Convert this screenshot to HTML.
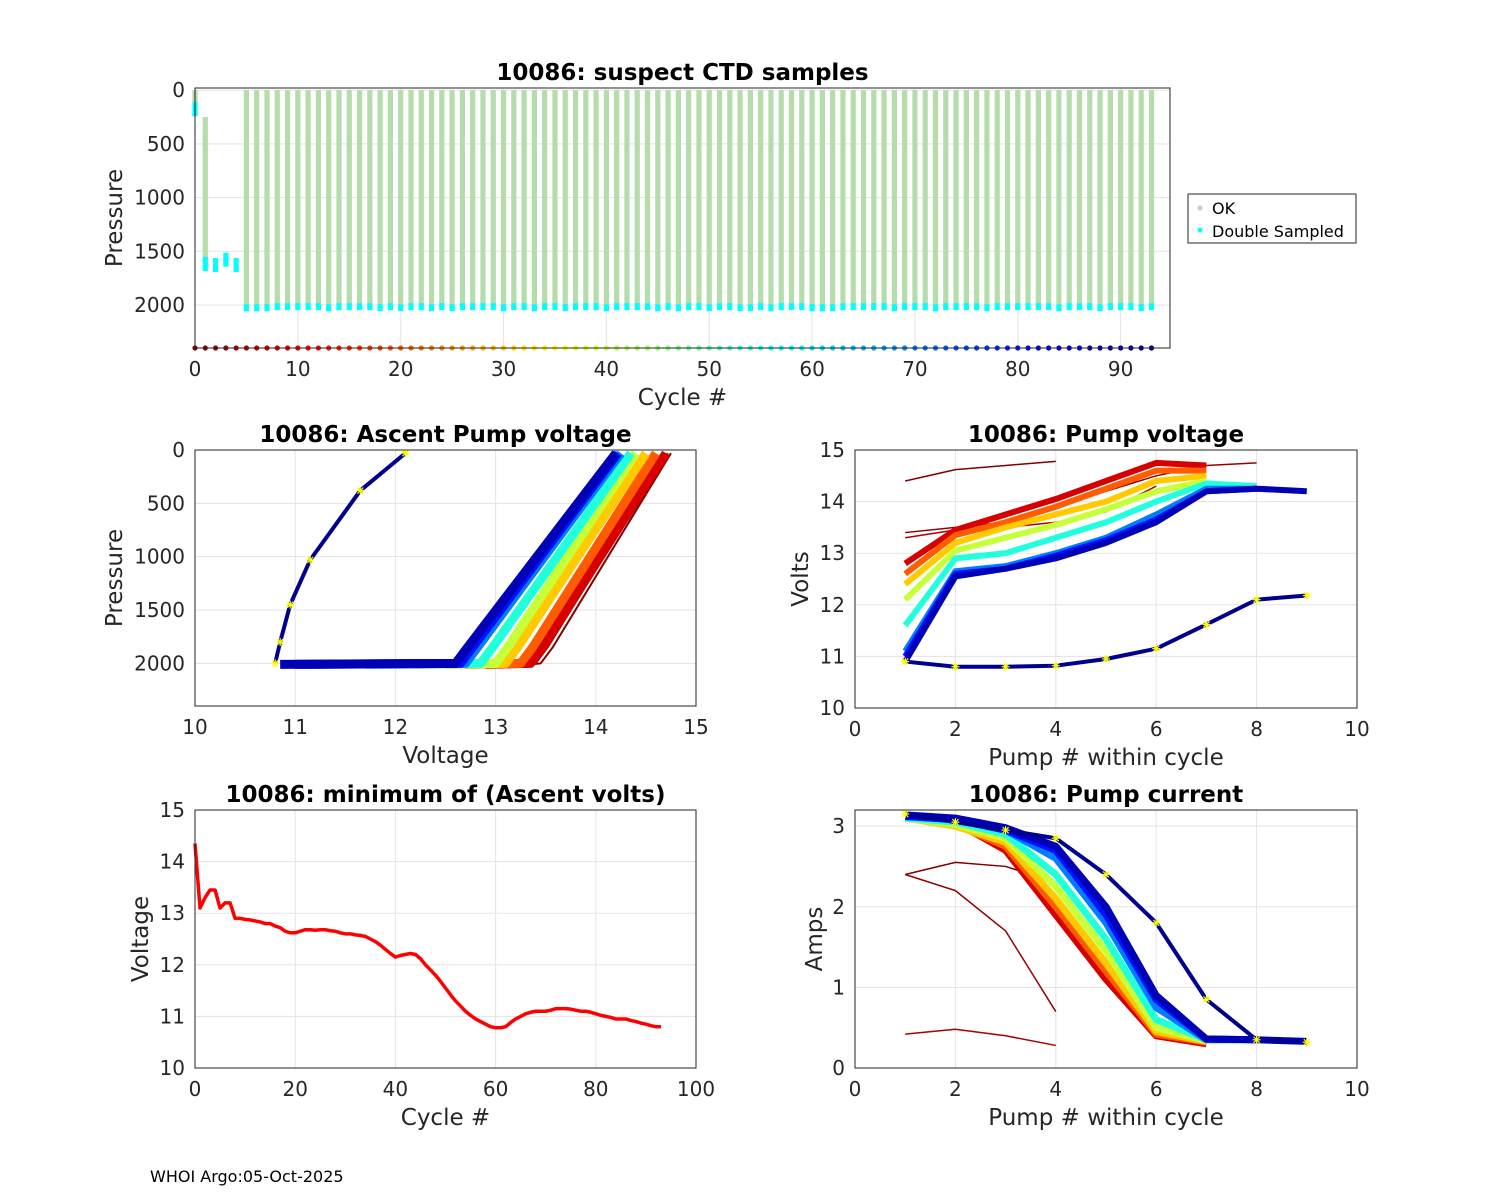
<!DOCTYPE html>
<html><head><meta charset="utf-8">
<style>
body{margin:0;background:#fff;}
svg{display:block;font-family:"DejaVu Sans","Liberation Sans",sans-serif;}
</style></head>
<body>
<svg id="fig" width="1500" height="1200" viewBox="0 0 1500 1200"></svg>
<script>
// ---------- DATA ----------
const cycles = Array.from({length:94},(_,i)=>i);
const minVolts = [14.35,13.1,13.3,13.45,13.45,13.1,13.2,13.2,12.9,12.9,12.88,12.87,12.85,12.83,12.8,12.8,12.75,12.72,12.65,12.62,12.62,12.65,12.68,12.68,12.67,12.68,12.68,12.66,12.65,12.62,12.6,12.6,12.58,12.57,12.55,12.5,12.45,12.38,12.3,12.22,12.15,12.18,12.2,12.22,12.2,12.12,12.0,11.9,11.8,11.68,11.55,11.42,11.3,11.2,11.1,11.02,10.95,10.9,10.85,10.8,10.78,10.78,10.8,10.88,10.95,11.0,11.05,11.08,11.1,11.1,11.1,11.12,11.15,11.15,11.15,11.14,11.12,11.1,11.1,11.08,11.05,11.02,11.0,10.98,10.95,10.95,10.95,10.92,10.9,10.87,10.85,10.82,10.8,10.8];
const okTop = [0,250,null,null,null].concat(Array(89).fill(0));
const okBot = [120,1570,null,null,null].concat(Array(89).fill(2000));
const dblP  = [150,1590,1600,1550,1600,2030,2030,2030,2020,2020,2020,2020,2020,2030,2020,2020,2020,2020,2030,2020,2030,2020,2020,2030,2020,2030,2020,2020,2020,2020,2030,2020,2020,2030,2020,2020,2030,2020,2020,2020,2030,2020,2020,2020,2020,2030,2020,2030,2020,2020,2030,2020,2020,2030,2030,2020,2030,2020,2020,2020,2030,2030,2030,2020,2020,2020,2020,2020,2030,2020,2020,2020,2030,2020,2020,2020,2020,2030,2020,2020,2020,2020,2020,2020,2030,2020,2020,2020,2030,2020,2020,2020,2030,2020];
const repCycles = [0,2,4,8,20,30,40,55,70,80,88,93];
const pumpVolts = [
 [14.4,14.62,14.7,14.78],
 [13.4,13.5,13.6,13.9,14.2,14.5,14.7,14.75],
 [13.3,13.45,13.5,13.6,13.8,14.3],
 [12.8,13.45,13.75,14.05,14.4,14.75,14.7],
 [12.6,13.35,13.6,13.9,14.25,14.6,14.6],
 [12.4,13.2,13.5,13.75,14.0,14.4,14.5],
 [12.1,13.05,13.3,13.55,13.85,14.2,14.4],
 [11.6,12.9,13.0,13.3,13.6,14.0,14.35,14.3],
 [11.1,12.65,12.75,13.0,13.3,13.75,14.25,14.25],
 [11.0,12.6,12.7,12.95,13.25,13.65,14.2,14.25],
 [10.9,12.55,12.7,12.9,13.2,13.6,14.2,14.25,14.2],
 [10.9,10.8,10.8,10.82,10.95,11.15,11.62,12.1,12.18]
];
const pumpAmps = [
 [2.4,2.55,2.5,2.3],
 [2.4,2.2,1.7,0.7],
 [0.42,0.48,0.4,0.28],
 [3.1,3.05,2.7,1.9,1.1,0.4,0.3],
 [3.1,3.02,2.75,2.0,1.2,0.42,0.32],
 [3.1,3.0,2.8,2.1,1.3,0.45,0.33],
 [3.1,3.02,2.85,2.25,1.45,0.5,0.34],
 [3.1,3.05,2.9,2.4,1.6,0.6,0.35],
 [3.12,3.08,2.95,2.6,1.8,0.75,0.35,0.35],
 [3.12,3.08,2.95,2.7,1.9,0.85,0.36,0.35],
 [3.14,3.1,2.98,2.75,2.0,0.9,0.36,0.35,0.33],
 [3.15,3.05,2.95,2.85,2.4,1.8,0.85,0.35,0.32]
];
// ascent profiles (for all rep cycles except last)
const startV = [13.35,13.3,13.3,12.9,12.7,12.5,12.2,11.7,11.1,11.0,10.85];
const kneeV  = [13.45,13.4,13.35,13.35,13.25,13.1,13.0,12.85,12.7,12.65,12.6];
const topV   = [14.75,14.72,14.7,14.7,14.6,14.5,14.4,14.35,14.25,14.22,14.2];
const lastProfV = [10.8,10.85,10.95,11.15,11.65,12.1];
const lastProfP = [2000,1800,1450,1030,380,30];

// ---------- HELPERS ----------
const NS="http://www.w3.org/2000/svg";
const svg=document.getElementById('fig');
function el(tag,attrs,parent){const e=document.createElementNS(NS,tag);for(const k in attrs)e.setAttribute(k,attrs[k]);(parent||svg).appendChild(e);return e;}
function txt(s,attrs,parent){const e=el('text',attrs,parent);e.textContent=s;return e;}
function jet(t){t=Math.max(0,Math.min(1,t));const r=Math.min(1,Math.max(0,1.5-Math.abs(4*t-3))),g=Math.min(1,Math.max(0,1.5-Math.abs(4*t-2))),b=Math.min(1,Math.max(0,1.5-Math.abs(4*t-1)));return `rgb(${Math.round(r*255)},${Math.round(g*255)},${Math.round(b*255)})`;}
function cyc(c){return jet(1-c/93);}
function axes(o){
  const g=el('g',{});
  
  
  const sx=v=>o.x0+(v-o.xmin)/(o.xmax-o.xmin)*(o.x1-o.x0);
  const sy=o.rev?(v=>o.y0+(v-o.ymin)/(o.ymax-o.ymin)*(o.y1-o.y0)):(v=>o.y1-(v-o.ymin)/(o.ymax-o.ymin)*(o.y1-o.y0));
  el('rect',{x:o.x0,y:o.y0,width:o.x1-o.x0,height:o.y1-o.y0,fill:'#fff'},g);
  const gr=el('g',{},g);
  o.xt.forEach(v=>{const x=sx(v);el('line',{x1:x,x2:x,y1:o.y0,y2:o.y1,stroke:'#e3e3e3','stroke-width':1},gr);
    const t=txt(String(v),{x:x,y:o.y1+28,'font-size':20,'text-anchor':'middle',fill:'#262626'},g);});
  o.yt.forEach(v=>{const y=sy(v);el('line',{x1:o.x0,x2:o.x1,y1:y,y2:y,stroke:'#e3e3e3','stroke-width':1},gr);
    const t=txt(String(v),{x:o.x0-10,y:y+7,'font-size':20,'text-anchor':'end',fill:'#262626'},g);});
  const plot=el('g',{},g);
  const t=txt(o.title,{x:(o.x0+o.x1)/2,y:o.y0-8,'font-size':23,'font-weight':'bold','text-anchor':'middle',fill:'#000'},g);
  
  const xl=txt(o.xlabel,{x:(o.x0+o.x1)/2,y:o.y1+57,'font-size':23,'text-anchor':'middle',fill:'#262626'},g);
  
  const yx=o.ylx, yy=(o.y0+o.y1)/2;
  const yl=txt(o.ylabel,{x:yx,y:yy,'font-size':23,'text-anchor':'middle',fill:'#262626',transform:`rotate(-90 ${yx} ${yy})`},g);
  
  o.finish=()=>{el('rect',{x:o.x0,y:o.y0,width:o.x1-o.x0,height:o.y1-o.y0,fill:'none',stroke:'#262626','stroke-width':1},g);};
  return {sx,sy,plot,o};
}
function poly(xs,ys,sx,sy,attrs,parent,name){const p=el('polyline',Object.assign({points:xs.map((x,i)=>sx(x)+','+sy(ys[i])).join(' '),fill:'none'},attrs),parent);return p;}
function star(x,y,parent){const g=el('g',{stroke:'#ffff00','stroke-width':1.2},parent);
  
  el('line',{x1:x-4,x2:x+4,y1:y,y2:y},g);el('line',{x1:x,x2:x,y1:y-4,y2:y+4},g);el('line',{x1:x-3,x2:x+3,y1:y-3,y2:y+3},g);el('line',{x1:x-3,x2:x+3,y1:y+3,y2:y-3},g);}

// ---------- TOP ----------
(function(){
  const A=axes({name:'ctd-samples-chart',x0:195,x1:1170,y0:88,y1:348,xmin:0,xmax:94.8,ymin:-20,ymax:2400,rev:true,
    xt:[0,10,20,30,40,50,60,70,80,90],yt:[0,500,1000,1500,2000],title:'10086: suspect CTD samples',xlabel:'Cycle #',ylabel:'Pressure',ylx:122});
  const {sx,sy,plot}=A;
  cycles.forEach(c=>{
    if(okTop[c]!==null){const r=el('rect',{x:sx(c)-2.6,y:sy(okTop[c]),width:5.2,height:sy(okBot[c])-sy(okTop[c]),fill:'#b5dcab'},plot);
      }
    const d=el('rect',{x:sx(c)-2.6,y:sy(dblP[c])-4,width:5.2,height:(c<5?14:7),fill:'#00ffff'},plot);
    
    const dot=el('circle',{cx:sx(c),cy:348,r:2.6,fill:cyc(c)},plot);
    
  });
  A.o.finish();
  const lg=el('g',{});
  el('rect',{x:1188,y:194,width:168,height:49,fill:'#fff',stroke:'#262626','stroke-width':1},lg);
  el('circle',{cx:1200,cy:208,r:2.5,fill:'#b5dcab'},lg);
  el('circle',{cx:1200,cy:230,r:2.5,fill:'#00ffff'},lg);
  const l1=txt('OK',{x:1212,y:214,'font-size':16,fill:'#000'},lg);
  const l2=txt('Double Sampled',{x:1212,y:237,'font-size':16,fill:'#000'},lg);
})();

// ---------- MID LEFT ----------
(function(){
  const A=axes({name:'ascent-pump-voltage-chart',x0:195,x1:696,y0:450,y1:706,xmin:10,xmax:15,ymin:0,ymax:2400,rev:true,
    xt:[10,11,12,13,14,15],yt:[0,500,1000,1500,2000],title:'10086: Ascent Pump voltage',xlabel:'Voltage',ylabel:'Pressure',ylx:122});
  const {sx,sy,plot}=A;
  repCycles.slice(0,11).forEach((c,i)=>{
    const xs=[startV[i],kneeV[i],kneeV[i]+0.12,topV[i]];
    const ys=[2010,2000,1850,30];
    poly(xs,ys,sx,sy,{stroke:cyc(c),'stroke-width':c<5?2:9,'stroke-linejoin':'round'},plot,'ascent-profile');
  });
  poly(lastProfV,lastProfP,sx,sy,{stroke:'#00008f','stroke-width':4},plot,'last-ascent-profile');
  lastProfV.forEach((v,i)=>star(sx(v),sy(lastProfP[i]),plot));
  A.o.finish();
})();

// ---------- MID RIGHT ----------
(function(){
  const A=axes({name:'pump-voltage-chart',x0:855,x1:1357,y0:450,y1:708,xmin:0,xmax:10,ymin:10,ymax:15,rev:false,
    xt:[0,2,4,6,8,10],yt:[10,11,12,13,14,15],title:'10086: Pump voltage',xlabel:'Pump # within cycle',ylabel:'Volts',ylx:808});
  const {sx,sy,plot}=A;
  repCycles.forEach((c,i)=>{
    const ys=pumpVolts[i], xs=ys.map((_,k)=>k+1);
    poly(xs,ys,sx,sy,{stroke:c===93?'#00008f':cyc(c),'stroke-width':c===93?4:(c<5?1.5:6),'stroke-linejoin':'round'},plot,'pump-voltage-line');
    if(c===93) xs.forEach((x,k)=>star(sx(x),sy(ys[k]),plot));
  });
  A.o.finish();
})();

// ---------- BOTTOM LEFT ----------
(function(){
  const A=axes({name:'min-ascent-volts-chart',x0:195,x1:696,y0:810,y1:1068,xmin:0,xmax:100,ymin:10,ymax:15,rev:false,
    xt:[0,20,40,60,80,100],yt:[10,11,12,13,14,15],title:'10086: minimum of (Ascent volts)',xlabel:'Cycle #',ylabel:'Voltage',ylx:148});
  const {sx,sy,plot}=A;
  poly(cycles,minVolts,sx,sy,{stroke:'#ff0000','stroke-width':3.5,'stroke-linejoin':'round'},plot,'min-volts-line');
  A.o.finish();
})();

// ---------- BOTTOM RIGHT ----------
(function(){
  const A=axes({name:'pump-current-chart',x0:855,x1:1357,y0:810,y1:1068,xmin:0,xmax:10,ymin:0,ymax:3.2,rev:false,
    xt:[0,2,4,6,8,10],yt:[0,1,2,3],title:'10086: Pump current',xlabel:'Pump # within cycle',ylabel:'Amps',ylx:822});
  const {sx,sy,plot}=A;
  repCycles.forEach((c,i)=>{
    const ys=pumpAmps[i], xs=ys.map((_,k)=>k+1);
    poly(xs,ys,sx,sy,{stroke:c===93?'#00008f':cyc(c),'stroke-width':c===93?4:(c<5?1.5:7),'stroke-linejoin':'round'},plot,'pump-current-line');
    if(c===93) xs.forEach((x,k)=>star(sx(x),sy(ys[k]),plot));
  });
  A.o.finish();
})();

const foot=txt('WHOI Argo:05-Oct-2025',{x:150,y:1182,'font-size':16,fill:'#000'});


</script>
</body></html>
